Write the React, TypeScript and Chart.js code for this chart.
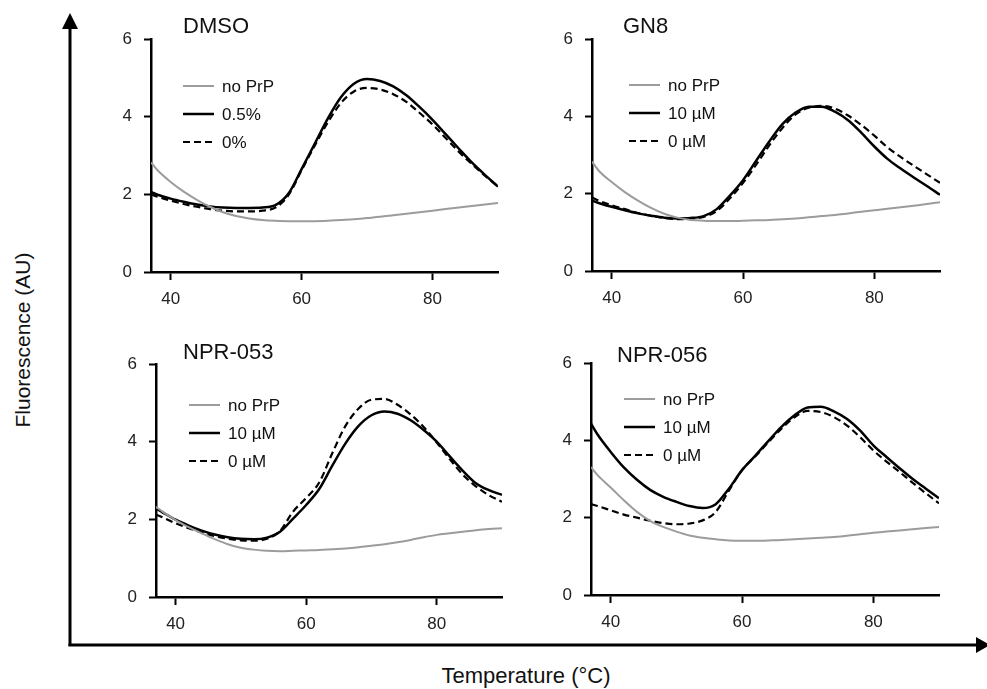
import React, { useEffect, useRef } from "react";
import { Chart, registerables } from "chart.js";

Chart.register(...registerables);

// ---------- data ----------
const TEMPS = [37, 38, 40, 42, 44, 46, 48, 50, 52, 54, 56, 58, 60, 62, 64, 66, 68, 70, 72, 74, 76, 78, 80, 82, 84, 86, 88, 90];

const X_TICKS = [40, 60, 80];
const Y_TICKS = [0, 2, 4, 6];

const DMSO_NOPRP = [2.82, 2.62, 2.32, 2.07, 1.86, 1.68, 1.54, 1.44, 1.38, 1.34, 1.32, 1.31, 1.31, 1.31, 1.32, 1.34, 1.36, 1.39, 1.42, 1.46, 1.5, 1.54, 1.58, 1.62, 1.66, 1.7, 1.74, 1.78];
const DMSO_05 = [2.06, 1.99, 1.89, 1.81, 1.74, 1.69, 1.66, 1.65, 1.65, 1.66, 1.72, 2.02, 2.65, 3.3, 3.95, 4.5, 4.85, 4.97, 4.92, 4.78, 4.55, 4.25, 3.92, 3.55, 3.18, 2.82, 2.5, 2.2];
const DMSO_0 = [2.0, 1.94, 1.84, 1.75, 1.68, 1.62, 1.58, 1.56, 1.56, 1.58, 1.66, 1.98, 2.62, 3.25, 3.85, 4.35, 4.65, 4.74, 4.7, 4.58, 4.38, 4.1, 3.8, 3.45, 3.1, 2.78, 2.48, 2.2];

const GN8_NOPRP = [2.83, 2.6, 2.3, 2.04, 1.82, 1.63, 1.48, 1.38, 1.32, 1.3, 1.29, 1.29, 1.3, 1.31, 1.32, 1.34, 1.36, 1.39, 1.42, 1.45, 1.49, 1.53, 1.57, 1.61, 1.65, 1.69, 1.73, 1.78];
const GN8_10 = [1.82, 1.76, 1.66, 1.57, 1.49, 1.43, 1.38, 1.36, 1.37, 1.42, 1.6, 1.95, 2.35, 2.85, 3.35, 3.8, 4.1, 4.25, 4.25, 4.12, 3.9, 3.58, 3.22, 2.9, 2.65, 2.42, 2.2, 1.97];
const GN8_0 = [1.9, 1.82, 1.7, 1.6, 1.5, 1.43, 1.37, 1.34, 1.35, 1.4, 1.55, 1.88, 2.28, 2.75, 3.25, 3.7, 4.05, 4.22, 4.27, 4.2, 4.02, 3.78, 3.5, 3.2, 2.95, 2.72, 2.5, 2.28];

const N053_NOPRP = [2.32, 2.2, 1.98, 1.8, 1.64, 1.49, 1.36, 1.27, 1.22, 1.19, 1.18, 1.19, 1.2, 1.21, 1.23, 1.25, 1.28, 1.32, 1.36, 1.41, 1.47, 1.54, 1.6, 1.64, 1.68, 1.72, 1.75, 1.77];
const N053_10 = [2.28, 2.18, 1.99, 1.84, 1.71, 1.61, 1.54, 1.5, 1.49, 1.53, 1.68, 2.02, 2.37, 2.78, 3.38, 3.95, 4.4, 4.68, 4.78, 4.72, 4.55, 4.3, 4.0, 3.62, 3.25, 2.93, 2.75, 2.63];
const N053_0 = [2.12, 2.05, 1.9, 1.77, 1.66, 1.57, 1.5, 1.46, 1.45, 1.5, 1.7, 2.2, 2.55, 2.95, 3.7, 4.4, 4.85, 5.08, 5.1, 4.95, 4.7, 4.38, 3.98, 3.55, 3.15, 2.85, 2.62, 2.45];

const N056_NOPRP = [3.31, 3.1, 2.78, 2.45, 2.15, 1.92, 1.76, 1.64, 1.54, 1.48, 1.44, 1.41, 1.4, 1.4, 1.41, 1.42, 1.44, 1.46, 1.48, 1.5, 1.53, 1.57, 1.61, 1.64, 1.67, 1.7, 1.73, 1.76];
const N056_10 = [4.43, 4.15, 3.7, 3.3, 2.98, 2.72, 2.54, 2.41, 2.3, 2.25, 2.35, 2.75, 3.23, 3.6, 3.98, 4.35, 4.65, 4.85, 4.87, 4.75, 4.55, 4.25, 3.87, 3.57, 3.28, 3.0, 2.75, 2.5];
const N056_0 = [2.35, 2.3, 2.19, 2.08, 2.0, 1.92, 1.86, 1.83, 1.85, 1.93, 2.15, 2.7, 3.23, 3.58, 3.95, 4.3, 4.6, 4.76, 4.73, 4.6, 4.38, 4.08, 3.74, 3.45, 3.18, 2.9, 2.63, 2.37];

const TITLES = ["DMSO", "GN8", "NPR-053", "NPR-056"];
const LABELS_DMSO = ["no PrP", "0.5%", "0%"];
const LABELS_UM = ["no PrP", "10 \u00b5M", "0 \u00b5M"];

// ---------- layout / style ----------
const FONT = "'Liberation Sans', Arial, Helvetica, sans-serif";
const PAD_L = 60;
const PAD_T = 40;
const PAD_R = 12;
const PAD_B = 45;

const PANELS = [
  { title: TITLES[0], labels: LABELS_DMSO, series: [DMSO_NOPRP, DMSO_05, DMSO_0], area: { l: 151, t: 39, r: 498, b: 272 }, titleDx: 32, titleDy: -12, legDx: 32, legDy: 47 },
  { title: TITLES[1], labels: LABELS_UM, series: [GN8_NOPRP, GN8_10, GN8_0], area: { l: 592, t: 39, r: 940, b: 271 }, titleDx: 31, titleDy: -12, legDx: 37, legDy: 46 },
  { title: TITLES[2], labels: LABELS_UM, series: [N053_NOPRP, N053_10, N053_0], area: { l: 156, t: 364, r: 502, b: 597 }, titleDx: 27, titleDy: -11, legDx: 33, legDy: 41 },
  { title: TITLES[3], labels: LABELS_UM, series: [N056_NOPRP, N056_10, N056_0], area: { l: 591, t: 363, r: 939, b: 595 }, titleDx: 26, titleDy: -7, legDx: 33, legDy: 36 },
];

const SERIES_STYLE = [
  { borderColor: "#9c9c9c", borderWidth: 2, borderDash: [] as number[] },
  { borderColor: "#000000", borderWidth: 2.5, borderDash: [] as number[] },
  { borderColor: "#000000", borderWidth: 2.2, borderDash: [7, 4] },
];

const decorPlugin = {
  id: "panelDecor",
  afterDraw(chart: any, _args: any, opts: any) {
    const { ctx, chartArea } = chart;
    ctx.save();
    ctx.fillStyle = "#111";
    ctx.textAlign = "left";
    ctx.textBaseline = "middle";
    ctx.font = `22px ${FONT}`;
    ctx.fillText(opts.title, chartArea.left + opts.titleDx, chartArea.top + opts.titleDy);
    ctx.font = `17px ${FONT}`;
    chart.data.datasets.forEach((ds: any, i: number) => {
      const y = chartArea.top + opts.legDy + i * 28;
      const x0 = chartArea.left + opts.legDx;
      ctx.strokeStyle = ds.borderColor;
      ctx.lineWidth = ds.borderWidth;
      ctx.setLineDash(ds.borderDash || []);
      ctx.beginPath();
      ctx.moveTo(x0, y);
      ctx.lineTo(x0 + 31, y);
      ctx.stroke();
      ctx.setLineDash([]);
      ctx.fillText(ds.label, x0 + 39, y + 1);
    });
    ctx.restore();
  },
};

function Panel({ cfg }: { cfg: any }) {
  const ref = useRef<HTMLCanvasElement | null>(null);
  const { l, t, r, b } = cfg.area;
  const w = r - l + PAD_L + PAD_R;
  const h = b - t + PAD_T + PAD_B;

  useEffect(() => {
    if (!ref.current) return;
    const tickFont = { family: FONT, size: 17 };
    const chart = new Chart(ref.current, {
      type: "line",
      data: {
        datasets: cfg.series.map((vals: number[], i: number) => ({
          label: cfg.labels[i],
          data: TEMPS.map((x, k) => ({ x, y: vals[k] })),
          borderColor: SERIES_STYLE[i].borderColor,
          borderWidth: SERIES_STYLE[i].borderWidth,
          borderDash: SERIES_STYLE[i].borderDash,
          pointRadius: 0,
          fill: false,
          cubicInterpolationMode: "monotone",
          tension: 0.4,
          order: 2 - i === 0 ? 0 : i,
        })),
      },
      options: {
        animation: false,
        responsive: false,
        devicePixelRatio: 1,
        layout: { padding: { left: 0, top: PAD_T, right: PAD_R, bottom: 0 } },
        plugins: {
          legend: { display: false },
          tooltip: { enabled: false },
          title: { display: false },
          panelDecor: { title: cfg.title, titleDx: cfg.titleDx, titleDy: cfg.titleDy, legDx: cfg.legDx, legDy: cfg.legDy },
        } as any,
        scales: {
          x: {
            type: "linear",
            min: 37,
            max: 90,
            afterBuildTicks: (s: any) => {
              s.ticks = X_TICKS.map((v) => ({ value: v }));
            },
            afterFit: (s: any) => {
              s.height = PAD_B;
            },
            border: { display: true, color: "#000", width: 2.5 },
            grid: { display: true, drawOnChartArea: false, drawTicks: true, tickLength: 8, tickColor: "#000", tickWidth: 2 },
            ticks: { color: "#222", font: tickFont, padding: 9, maxRotation: 0 },
          },
          y: {
            type: "linear",
            min: 0,
            max: 6,
            afterBuildTicks: (s: any) => {
              s.ticks = Y_TICKS.map((v) => ({ value: v }));
            },
            afterFit: (s: any) => {
              s.width = PAD_L;
            },
            border: { display: true, color: "#000", width: 2.5 },
            grid: { display: true, drawOnChartArea: false, drawTicks: true, tickLength: 7, tickColor: "#000", tickWidth: 2 },
            ticks: { color: "#222", font: tickFont, padding: 12 },
          },
        },
      },
      plugins: [decorPlugin],
    } as any);
    return () => chart.destroy();
  }, []);

  return (
    <canvas
      ref={ref}
      width={w}
      height={h}
      style={{ position: "absolute", left: l - PAD_L, top: t - PAD_T, width: w, height: h }}
    />
  );
}

export default function App() {
  return (
    <div style={{ position: "absolute", left: 0, top: 0, width: 987, height: 689, background: "#fff", overflow: "hidden", fontFamily: FONT }}>
      <svg width={987} height={689} style={{ position: "absolute", left: 0, top: 0 }}>
        <line x1={70} y1={646} x2={70} y2={26} stroke="#000" strokeWidth={3} />
        <polygon points="62,29 78,29 70,13" fill="#000" />
        <line x1={68.5} y1={645} x2={976} y2={645} stroke="#000" strokeWidth={3} />
        <polygon points="976,637 976,653 990,645" fill="#000" />
        <text x={0} y={0} transform="translate(30, 340) rotate(-90)" textAnchor="middle" fontSize={21} fill="#111" fontFamily={FONT}>
          Fluorescence (AU)
        </text>
        <text x={526} y={683} textAnchor="middle" fontSize={22} fill="#111" fontFamily={FONT}>
          Temperature (°C)
        </text>
      </svg>
      {PANELS.map((p, i) => (
        <Panel key={i} cfg={p} />
      ))}
    </div>
  );
}
